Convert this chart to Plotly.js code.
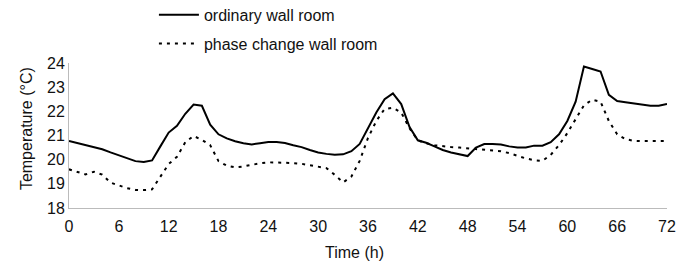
<!DOCTYPE html>
<html>
<head>
<meta charset="utf-8">
<script src="https://cdn.plot.ly/plotly-3.0.1.min.js"></script>
<style>html,body{margin:0;padding:0;background:#fff;}#chart{width:686px;height:263px;}</style>
</head>
<body>
<div id="chart"></div>
<script>
const hours = Array.from({length: 73}, (_, i) => i);
const ordinaryWall = [
  20.77, 20.69, 20.60, 20.52, 20.43, 20.30, 20.17, 20.05, 19.94, 19.90,
  19.97, 20.55, 21.12, 21.40, 21.90, 22.28, 22.23, 21.45, 21.05, 20.88,
  20.76, 20.68, 20.63, 20.68, 20.73, 20.73, 20.69, 20.60, 20.52, 20.40,
  20.30, 20.24, 20.20, 20.22, 20.35, 20.65, 21.30, 21.95, 22.50, 22.74,
  22.30, 21.35, 20.80, 20.70, 20.55, 20.40, 20.30, 20.22, 20.15, 20.50,
  20.65, 20.65, 20.63, 20.55, 20.50, 20.50, 20.58, 20.58, 20.72, 21.05,
  21.60, 22.40, 23.85, 23.75, 23.65, 22.68, 22.43, 22.38, 22.32, 22.28,
  22.23, 22.23, 22.30
];
const phaseChangeWall = [
  19.60, 19.48, 19.39, 19.50, 19.38, 19.05, 18.92, 18.82, 18.75, 18.74,
  18.77, 19.30, 19.82, 20.12, 20.72, 20.98, 20.82, 20.60, 19.94, 19.75,
  19.68, 19.72, 19.80, 19.85, 19.89, 19.89, 19.89, 19.86, 19.83, 19.78,
  19.72, 19.65, 19.37, 19.06, 19.30, 19.95, 20.90, 21.60, 22.10, 22.15,
  21.95, 21.30, 20.80, 20.68, 20.60, 20.55, 20.52, 20.50, 20.47, 20.45,
  20.43, 20.40, 20.35, 20.27, 20.15, 20.05, 19.98, 19.95, 20.20, 20.60,
  21.10, 21.70, 22.25, 22.48, 22.40, 21.60, 21.05, 20.85, 20.78, 20.77,
  20.77, 20.77, 20.77
];
const seriesNames = ['ordinary wall room', 'phase change wall room'];
const xTicks = [0, 6, 12, 18, 24, 30, 36, 42, 48, 54, 60, 66, 72];
const yTicks = [18, 19, 20, 21, 22, 23, 24];
const xTitle = 'Time (h)';
const yTitle = 'Temperature (°C)';

const font = {family: 'Liberation Sans, Arial, sans-serif', size: 16, color: '#111'};

const traces = [
  {x: hours, y: ordinaryWall, name: seriesNames[0], type: 'scatter', mode: 'lines',
   line: {color: '#000', width: 2}, legendgroup: 'a'},
  {x: hours, y: phaseChangeWall, name: seriesNames[1], type: 'scatter', mode: 'lines',
   line: {color: '#000', width: 2, dash: '3px,5px'}, legendgroup: 'b'}
];

const layout = {
  width: 686, height: 263,
  margin: {l: 69, r: 19, t: 63, b: 55, autoexpand: false},
  paper_bgcolor: '#fff', plot_bgcolor: '#fff',
  font: font,
  showlegend: true,
  legend: {x: 0.142, xanchor: 'left', y: 1.45, yanchor: 'top',
    traceorder: 'grouped', tracegroupgap: 5, font: {family: font.family, size: 16, color: '#111'},
    bgcolor: 'rgba(0,0,0,0)', itemwidth: 40},
  xaxis: {range: [0, 72], tickvals: xTicks, ticktext: xTicks.map(String), showgrid: false, zeroline: false,
    showline: true, linecolor: '#bbb', linewidth: 1, ticks: '', tickfont: {size: 16},
    ticklabelstandoff: 4},
  yaxis: {range: [18, 24], tickvals: yTicks, ticktext: yTicks.map(String), showgrid: false, zeroline: false,
    showline: true, linecolor: '#bbb', linewidth: 1, ticks: '', tickfont: {size: 16}},
  annotations: [
    {text: xTitle, xref: 'paper', yref: 'paper', x: 0.477, y: -0.305, xanchor: 'center', yanchor: 'middle',
     showarrow: false, font: {size: 16, color: '#111'}},
    {text: yTitle, xref: 'paper', yref: 'paper', x: -0.07, y: 0.545, xanchor: 'center', yanchor: 'middle',
     textangle: -90, showarrow: false, font: {size: 16, color: '#111'}}
  ]
};

Plotly.newPlot('chart', traces, layout, {displayModeBar: false, staticPlot: true});
</script>
</body>
</html>
